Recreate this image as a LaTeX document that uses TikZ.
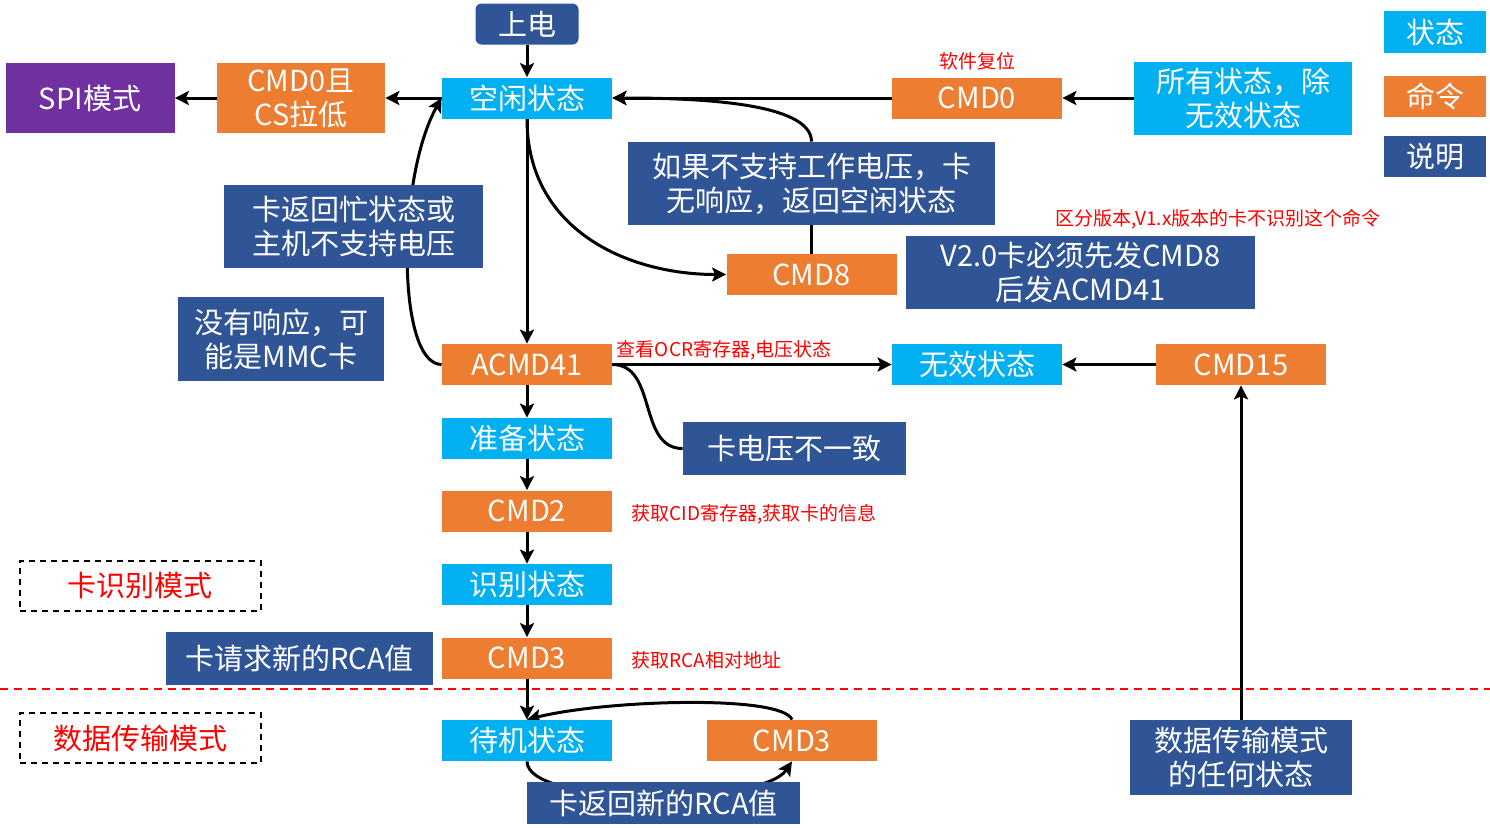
\documentclass[tikz,border=0pt]{standalone}
\usepackage{fontspec}
\setmainfont{Noto Sans CJK SC}
\usetikzlibrary{arrows.meta,backgrounds}
\definecolor{stcyan}{HTML}{00B0F0}
\definecolor{cmdorange}{HTML}{ED7D31}
\definecolor{noteblue}{HTML}{2F5597}
\definecolor{spipurple}{HTML}{7030A0}
\definecolor{lblred}{HTML}{FF0000}

\begin{document}
\begin{tikzpicture}[x=0.5pt,y=-0.5pt,
  box/.style={rectangle,inner sep=0pt,text=white,align=center,
    font=\fontsize{14.5}{17}\selectfont,minimum width=85pt,minimum height=20.5pt},
  statebox/.style={box,fill=stcyan},
  cmdbox/.style={box,fill=cmdorange},
  notebox/.style={box,fill=noteblue},
  modebox/.style={draw,dash pattern=on 3pt off 2.5pt,line width=0.8pt,text=lblred,
    font=\fontsize{14.5}{17}\selectfont,minimum width=120.5pt,minimum height=25pt,inner sep=0pt},
  redtxt/.style={text=lblred,font=\fontsize{9.5}{11}\selectfont,inner sep=1.5pt},
  arr/.style={line width=1.5pt,-{Stealth[length=7pt,width=7pt,inset=1.5pt]}},
  link/.style={line width=1.5pt}]

\useasboundingbox (0,0) rectangle (1490,827);

\node[notebox,rounded corners=3pt,minimum width=51.5pt] (power) at (527,24) {上电};
\node[statebox] (idle) at (527,98) {空闲状态};
\node[cmdbox,minimum width=84pt,minimum height=35pt] (cmd0cs) at (301,98) {CMD0且\\CS拉低};
\node[box,fill=spipurple,minimum width=84.5pt,minimum height=35pt] (spi) at (90,98) {SPI模式};
\node[cmdbox] (cmd0) at (977,98) {CMD0};
\node[statebox,minimum width=109pt,minimum height=36.5pt] (allst) at (1243,98) {所有状态，除\\无效状态};
\node[notebox,minimum width=183.5pt,minimum height=41.5pt] (novolt) at (811.5,183.5) {如果不支持工作电压，卡\\无响应，返回空闲状态};
\node[cmdbox] (cmd8) at (811.5,274.5) {CMD8};
\node[notebox,minimum width=174.5pt,minimum height=36.5pt] (v20) at (1080.5,272.5) {V2.0卡必须先发CMD8\\后发ACMD41};
\node[notebox,minimum width=129.5pt,minimum height=41.5pt] (busy) at (353.5,226.5) {卡返回忙状态或\\主机不支持电压};
\node[notebox,minimum width=103pt,minimum height=42pt] (mmc) at (281,339) {没有响应，可\\能是MMC卡};
\node[cmdbox] (acmd41) at (527,364.5) {ACMD41};
\node[statebox] (invalid) at (977,364.5) {无效状态};
\node[cmdbox] (cmd15) at (1241,364.5) {CMD15};
\node[notebox,minimum width=111.5pt,minimum height=26.5pt] (vdiff) at (794.5,448.5) {卡电压不一致};
\node[statebox] (ready) at (527,438.5) {准备状态};
\node[cmdbox] (cmd2) at (527,511) {CMD2};
\node[statebox] (ident) at (527,584.5) {识别状态};
\node[cmdbox] (cmd3) at (527,658) {CMD3};
\node[notebox,minimum width=133.5pt,minimum height=26.5pt] (rcareq) at (299.5,658.5) {卡请求新的RCA值};
\node[modebox] (idmode) at (140.5,586) {卡识别模式};
\node[modebox] (dtmode) at (140.5,738) {数据传输模式};
\node[statebox] (standby) at (527,740.5) {待机状态};
\node[cmdbox] (cmd3b) at (792,740.5) {CMD3};
\node[notebox,minimum width=136.5pt,minimum height=21pt] (rcaret) at (663.5,803) {卡返回新的RCA值};
\node[notebox,minimum width=111pt,minimum height=37.5pt] (anyst) at (1241,757.5) {数据传输模式\\的任何状态};
\node[statebox,minimum width=51pt,minimum height=21pt] (lgstate) at (1435,32) {状态};
\node[cmdbox,minimum width=51pt,minimum height=20.5pt] (lgcmd) at (1435,96.5) {命令};
\node[notebox,minimum width=51pt,minimum height=20.5pt] (lgnote) at (1435,156.5) {说明};

\node[redtxt,above=2pt] (resetnote) at (cmd0.north) {软件复位};
\node[redtxt] (vernote) at (1218,219) {区分版本,V1.x版本的卡不识别这个命令};
\node[redtxt,anchor=west] (cidnote) at (628,514) {获取CID寄存器,获取卡的信息};
\node[redtxt,anchor=west] (rcanote) at (628,660) {获取RCA相对地址};

\begin{scope}[on background layer]
\draw[arr] (power) -- (idle);
\draw[arr] (idle) -- (cmd0cs);
\draw[arr] (cmd0cs) -- (spi);
\draw[arr] (cmd0) -- (idle);
\draw[arr] (allst) -- (cmd0);
\draw[arr] (novolt.north) .. controls +(0,-40) and +(80,0) .. (idle.east);
\draw[link] (novolt) -- (cmd8);
\draw[arr] (idle.south) .. controls +(0,110) and +(-100,0) .. (cmd8.west);
\draw[arr] (idle) -- (acmd41);
\draw[arr] (acmd41.west) .. controls +(-45,0) and +(-45,80) .. (idle.west);
\draw[arr] (acmd41) -- node[redtxt,above right,pos=0] (ocrnote) {查看OCR寄存器,电压状态} (invalid);
\draw[arr] (cmd15) -- (invalid);
\draw[link] (acmd41.east) .. controls +(45,0) and +(-45,0) .. (vdiff.west);
\draw[arr] (acmd41) -- (ready);
\draw[arr] (ready) -- (cmd2);
\draw[arr] (cmd2) -- (ident);
\draw[arr] (ident) -- (cmd3);
\draw[arr] (cmd3) -- (standby);
\draw[arr] (cmd3b.north) .. controls +(-10,-25) and +(80,-20) .. (standby.north);
\draw[arr] (standby.south) .. controls +(0,45) and +(-30,45) .. (cmd3b.south);
\draw[arr] (anyst) -- (cmd15);
\draw[lblred,line width=1pt,dash pattern=on 4pt off 3pt] (0,689) -- (1490,689);
\end{scope}
\end{tikzpicture}
\end{document}
